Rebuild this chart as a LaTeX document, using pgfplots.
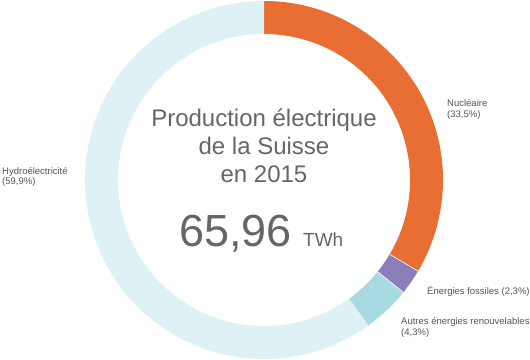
\documentclass[border=0pt]{standalone}
\usepackage{pgfplots}
\usepackage{pgfplotstable}
\pgfplotsset{compat=1.18}
\usepackage{fontspec}
\setmainfont{Liberation Sans}
\definecolor{cNuc}{HTML}{E86E33}
\definecolor{cFos}{HTML}{8A7DB9}
\definecolor{cAut}{HTML}{A8DAE4}
\definecolor{cHyd}{HTML}{DEF2F6}
\definecolor{txt}{HTML}{666666}
\definecolor{lab}{HTML}{555555}
\pgfplotstableread{
label share
Nucleaire 33.5
Fossiles 2.3
Autres 4.3
Hydro 59.9
}\shares
\begin{document}
\begin{tikzpicture}
\pgfplotstablegetelem{0}{share}\of\shares \pgfmathsetmacro{\sA}{\pgfplotsretval}
\pgfplotstablegetelem{1}{share}\of\shares \pgfmathsetmacro{\sB}{\pgfplotsretval}
\pgfplotstablegetelem{2}{share}\of\shares \pgfmathsetmacro{\sC}{\pgfplotsretval}
\pgfplotstablegetelem{3}{share}\of\shares \pgfmathsetmacro{\sD}{\pgfplotsretval}
\pgfmathsetmacro{\aO}{90}
\pgfmathsetmacro{\aA}{90-3.6*\sA}
\pgfmathsetmacro{\aB}{\aA-3.6*\sB}
\pgfmathsetmacro{\aC}{\aB-3.6*\sC}
\pgfmathsetmacro{\aD}{\aC-3.6*\sD}
\def\Ro{179pt}
\def\Ri{146pt}
\begin{axis}[name=ax,x=1pt,y=1pt,xmin=-264,xmax=266,ymin=-179,ymax=180,
  hide axis, clip=false, scale only axis]
\newcommand{\slice}[3]{%
  \fill[#3] ([shift={(#1:\Ro)}]axis cs:0,0) arc[start angle=#1,end angle=#2,radius=\Ro]
    -- ([shift={(#2:\Ri)}]axis cs:0,0) arc[start angle=#2,end angle=#1,radius=\Ri] -- cycle;}
\slice{\aO}{\aA}{cNuc}
\slice{\aA}{\aB}{cFos}
\slice{\aB}{\aC}{cAut}
\slice{\aC}{\aD}{cHyd}
\draw[white,line width=0.6pt] ([shift={(\aA:\Ri)}]axis cs:0,0) -- ([shift={(\aA:\Ro)}]axis cs:0,0);
\draw[white,line width=0.6pt] ([shift={(\aB:\Ri)}]axis cs:0,0) -- ([shift={(\aB:\Ro)}]axis cs:0,0);
% center text
\node[anchor=base,text=txt,font=\fontsize{24}{28}\selectfont] at (axis cs:0,53) {Production électrique};
\node[anchor=base,text=txt,font=\fontsize{24}{28}\selectfont] at (axis cs:0,25) {de la Suisse};
\node[anchor=base,text=txt,font=\fontsize{24}{28}\selectfont] at (axis cs:0,-3) {en 2015};
\node[anchor=base east,inner sep=0pt,text=txt,font=\fontsize{45}{50}\selectfont] at (axis cs:28,-67) {65,96};
\node[anchor=base west,inner sep=0pt,text=txt,font=\fontsize{19}{22}\selectfont] at (axis cs:39,-67) {TWh};
% labels
\node[anchor=base west,inner sep=0pt,text=lab,font=\fontsize{9.5}{11}\selectfont] at (axis cs:183,73) {Nucléaire};
\node[anchor=base west,inner sep=0pt,text=lab,font=\fontsize{9.5}{11}\selectfont] at (axis cs:183,62) {(33,5\%)};
\node[anchor=base west,inner sep=0pt,text=lab,font=\fontsize{9.5}{11}\selectfont] at (axis cs:163,-114) {Énergies fossiles (2,3\%)};
\node[anchor=base west,inner sep=0pt,text=lab,font=\fontsize{9.5}{11}\selectfont] at (axis cs:137,-144) {Autres énergies renouvelables};
\node[anchor=base west,inner sep=0pt,text=lab,font=\fontsize{9.5}{11}\selectfont] at (axis cs:137,-155) {(4,3\%)};
\node[anchor=base west,inner sep=0pt,text=lab,font=\fontsize{9.5}{11}\selectfont] at (axis cs:-262,5) {Hydroélectricité};
\node[anchor=base west,inner sep=0pt,text=lab,font=\fontsize{9.5}{11}\selectfont] at (axis cs:-262,-5) {(59,9\%)};
\end{axis}
\pgfresetboundingbox
\path (ax.south west) rectangle (ax.north east);
\end{tikzpicture}
\end{document}
